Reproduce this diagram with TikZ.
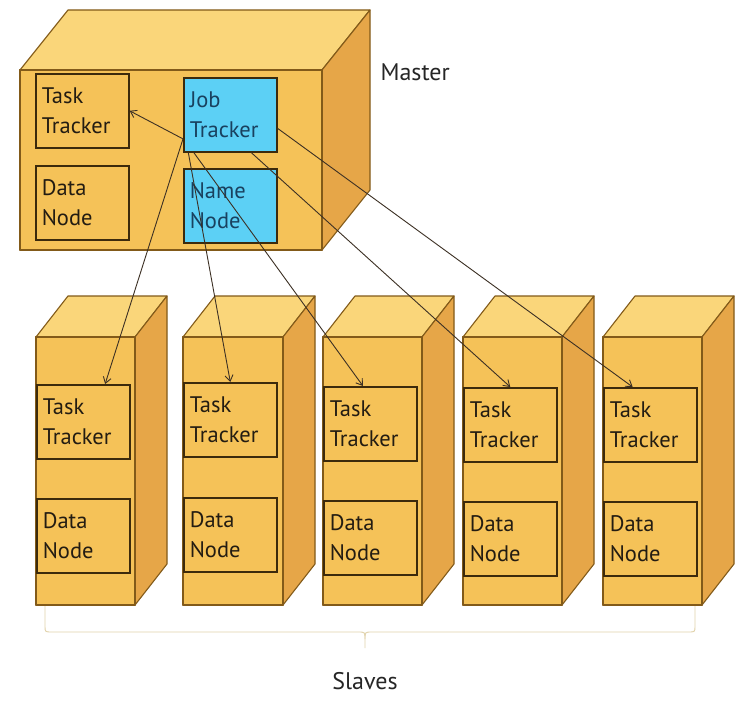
\documentclass[tikz,border=0pt]{standalone}
\usepackage{fontspec}
\setmainfont{PT Sans}
\usetikzlibrary{arrows.meta,calc}
\definecolor{frontc}{RGB}{245,194,88}
\definecolor{topc}{RGB}{250,214,122}
\definecolor{sidec}{RGB}{230,166,72}
\definecolor{edgec}{RGB}{130,90,25}
\definecolor{boxedge}{RGB}{60,42,12}
\definecolor{cyanc}{RGB}{92,208,245}
\definecolor{txtc}{RGB}{35,28,18}
\definecolor{cyantxt}{RGB}{25,65,95}
\definecolor{linec}{RGB}{60,48,36}
\definecolor{bracec}{RGB}{225,210,170}
\tikzset{
  frontface/.style={fill=frontc, draw=edgec, line width=1.1pt, line join=round},
  topface/.style={fill=topc, draw=edgec, line width=1.1pt, line join=round},
  sideface/.style={fill=sidec, draw=edgec, line width=1.1pt, line join=round},
  inbox/.style={draw=boxedge, line width=1.6pt, fill=frontc, anchor=north west,
    minimum width=93pt, minimum height=74pt, text width=81pt, inner xsep=6pt,
    align=left, text=txtc, font=\fontsize{22.5}{30}\selectfont},
  cybox/.style={inbox, fill=cyanc, text=cyantxt},
  conn/.style={draw=linec, line width=0.9pt, -{Straight Barb[length=6pt,width=8pt]}},
  lbl/.style={font=\fontsize{24}{28}\selectfont, text=black!85}
}
\newcommand{\cubeshape}[6]{% x0 y0 x1 y1 dx dy
  \fill[frontface] (#1,#2) rectangle (#3,#4);
  \filldraw[topface] (#1,#2) -- ({#1+#5},{#2-#6}) -- ({#3+#5},{#2-#6}) -- (#3,#2) -- cycle;
  \filldraw[sideface] (#3,#2) -- ({#3+#5},{#2-#6}) -- ({#3+#5},{#4-#6}) -- (#3,#4) -- cycle;
  \draw[frontface, fill=none] (#1,#2) rectangle (#3,#4);
}
\begin{document}
\begin{tikzpicture}[x=1pt,y=-1pt]
\path[use as bounding box, fill=white] (0,0) rectangle (754,708);
% master
\cubeshape{20}{70}{322}{250}{48}{60}
\node[inbox] (mtt) at (35,73) {Task\\Tracker};
\node[inbox] (mdn) at (35,165) {Data\\Node};
\node[cybox] (jt) at (183,77) {Job\\Tracker};
\node[cybox] (nn) at (183,168) {Name\\Node};
\node[lbl, anchor=west] (master) at (377,72) {Master};
% slaves
\cubeshape{36}{337}{135}{605}{32}{41}
\node[inbox] (s1tt) at (36,384) {Task\\Tracker};
\node[inbox] (s1dn) at (36,498) {Data\\Node};
\cubeshape{183}{337}{283}{605}{32}{41}
\node[inbox] (s2tt) at (183,382) {Task\\Tracker};
\node[inbox] (s2dn) at (183,497) {Data\\Node};
\cubeshape{323}{337}{422}{605}{32}{41}
\node[inbox] (s3tt) at (323,386) {Task\\Tracker};
\node[inbox] (s3dn) at (323,500) {Data\\Node};
\cubeshape{463}{337}{562}{605}{32}{41}
\node[inbox] (s4tt) at (463,387) {Task\\Tracker};
\node[inbox] (s4dn) at (463,501) {Data\\Node};
\cubeshape{603}{337}{702}{605}{32}{41}
\node[inbox] (s5tt) at (603,387) {Task\\Tracker};
\node[inbox] (s5dn) at (603,501) {Data\\Node};
% connectors
\draw[conn] (jt.207) -- (mtt.east);
\draw[conn] (jt.207) -- (s1tt.60);
\draw[conn] (jt.222) -- (s2tt.north);
\draw[conn] (jt.226) -- (s3tt.101);
\draw[conn] (jt.299) -- (s4tt.north);
\draw[conn] (jt.344) -- (s5tt.115);
% brace
\draw[bracec, line width=0.9pt] (45,606) -- (45,626) .. controls (45,632) .. (52,632) -- (358,632) .. controls (365,632) .. (365,639) -- (365,648);
\draw[bracec, line width=0.9pt] (365,639) .. controls (365,632) .. (372,632) -- (688,632) .. controls (695,632) .. (695,626) -- (695,606);
\node[lbl] (slaves) at (365,681) {Slaves};
\end{tikzpicture}
\end{document}
